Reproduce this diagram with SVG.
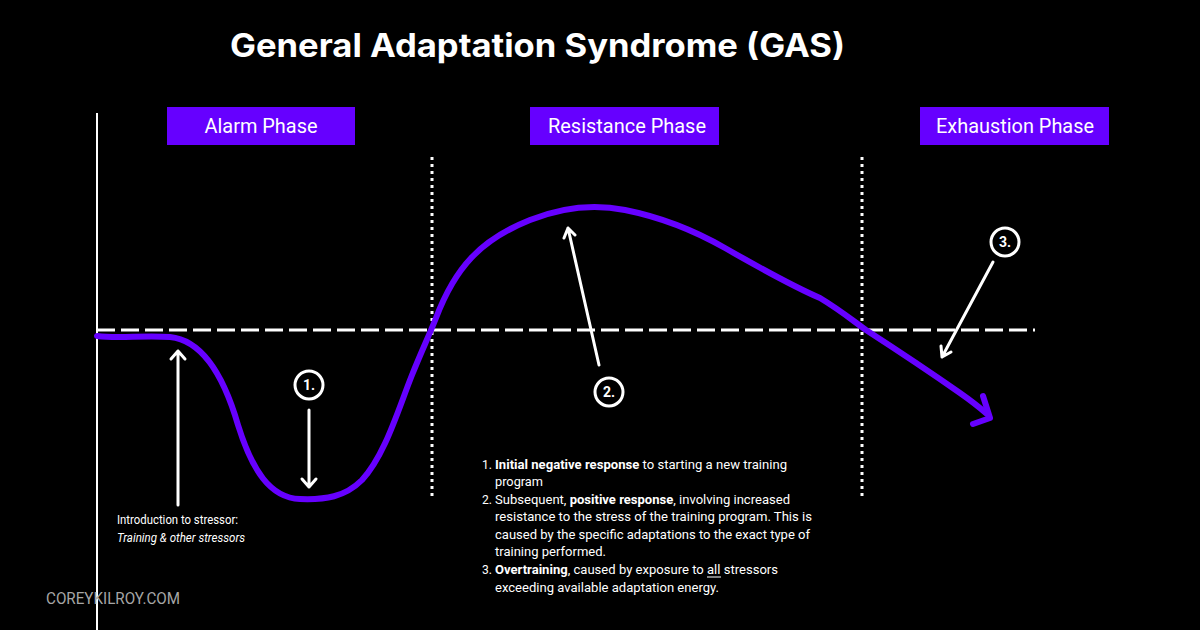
<svg xmlns="http://www.w3.org/2000/svg" width="1200" height="630" viewBox="0 0 1200 630">
<style>
.phase{fill:#6600ff}
.plabel{font-family:Roboto,"Liberation Sans",sans-serif;font-size:21px;fill:#fff;text-anchor:middle}
.wline{stroke:#fff;stroke-width:3;fill:none;stroke-linecap:round;stroke-linejoin:round}
.num{fill:none;stroke:#fff;stroke-width:3}
.numt{font-family:Roboto,"Liberation Sans",sans-serif;font-weight:bold;font-size:14px;fill:#fff;text-anchor:middle}
.body{font-family:Roboto,"Liberation Sans",sans-serif;font-size:13.5px;fill:#fff}
.b{font-weight:bold}
</style>
<rect width="1200" height="630" fill="#000"/>
<text x="230" y="57" font-family="Inter,'Open Sans','Liberation Sans',sans-serif" font-weight="bold" font-size="32" fill="#fff" textLength="615" lengthAdjust="spacingAndGlyphs">General Adaptation Syndrome (GAS)</text>

<g id="alarm-phase"><rect class="phase" x="167" y="107" width="188" height="38"/><text class="plabel" x="261" y="133" textLength="113" lengthAdjust="spacingAndGlyphs">Alarm Phase</text></g>
<g id="resistance-phase"><rect class="phase" x="530" y="107" width="189" height="38"/><text class="plabel" x="627" y="133" textLength="158" lengthAdjust="spacingAndGlyphs">Resistance Phase</text></g>
<g id="exhaustion-phase"><rect class="phase" x="920" y="107" width="189" height="38"/><text class="plabel" x="1015" y="133" textLength="158" lengthAdjust="spacingAndGlyphs">Exhaustion Phase</text></g>

<g id="axes">
<line x1="97" y1="113" x2="97" y2="630" stroke="#fff" stroke-width="2"/>
<line x1="97" y1="330" x2="1035" y2="330" stroke="#fff" stroke-width="3" stroke-dasharray="18 6"/>
<line x1="432" y1="157" x2="432" y2="497" stroke="#fff" stroke-width="3" stroke-dasharray="3 4"/>
<line x1="862" y1="157" x2="862" y2="497" stroke="#fff" stroke-width="3" stroke-dasharray="3 4"/>
</g>

<g id="curve">
<path d="M97,336 C120,339 140,335 170,337 C200,340 222,370 238,425 C252,470 270,498 300,499 C325,500 345,497 362,480 C385,455 398,410 412,375 C422,350 428,338 436,318 C455,268 480,240 530,220 C560,208 590,203 625,210 C660,217 690,228 725,248 C760,268 790,285 820,298 C840,310 852,320 866,330 C900,352 930,372 960,393 C970,400 978,406 987,414" fill="none" stroke="#6600ff" stroke-width="6" stroke-linecap="round" stroke-linejoin="round"/>
<path d="M983,396 L990,418 L973,424" fill="none" stroke="#6600ff" stroke-width="6" stroke-linecap="round" stroke-linejoin="round"/>
</g>

<g id="connectors">
<path class="wline" d="M178,505 L178,351 M171,359 L178,351 L185,359"/>
<path class="wline" d="M309,410 L309,487 M302,479 L309,487 L316,479"/>
<path class="wline" d="M599,365 L568,228 M564,238 L568,228 L575,235"/>
<path class="wline" d="M993,262 L942,357 M941,346 L942,357 L951,352"/>
</g>

<g id="marker-1"><circle class="num" cx="309" cy="385" r="14"/><text class="numt" x="309" y="390">1.</text></g>
<g id="marker-2"><circle class="num" cx="609" cy="392" r="14"/><text class="numt" x="609" y="397">2.</text></g>
<g id="marker-3"><circle class="num" cx="1005" cy="242" r="14"/><text class="numt" x="1005" y="247">3.</text></g>

<g id="intro-label">
<text class="body" x="117" y="524" font-size="13" textLength="121" lengthAdjust="spacingAndGlyphs">Introduction to stressor:</text>
<text class="body" x="117" y="542" font-size="13" font-style="italic" textLength="128" lengthAdjust="spacingAndGlyphs">Training &amp; other stressors</text>
</g>

<g id="notes">
<text class="body" x="482" y="469" textLength="10" lengthAdjust="spacingAndGlyphs">1.</text>
<text class="body" x="495" y="469" textLength="292" lengthAdjust="spacingAndGlyphs"><tspan class="b">Initial negative response</tspan> to starting a new training</text>
<text class="body" x="495" y="486" textLength="48" lengthAdjust="spacingAndGlyphs">program</text>
<text class="body" x="482" y="504" textLength="10" lengthAdjust="spacingAndGlyphs">2.</text>
<text class="body" x="495" y="504" textLength="295" lengthAdjust="spacingAndGlyphs">Subsequent, <tspan class="b">positive response</tspan>, involving increased</text>
<text class="body" x="495" y="521" textLength="317" lengthAdjust="spacingAndGlyphs">resistance to the stress of the training program. This is</text>
<text class="body" x="495" y="539" textLength="315" lengthAdjust="spacingAndGlyphs">caused by the specific adaptations to the exact type of</text>
<text class="body" x="495" y="556" textLength="111" lengthAdjust="spacingAndGlyphs">training performed.</text>
<text class="body" x="482" y="574" textLength="10" lengthAdjust="spacingAndGlyphs">3.</text>
<text class="body" x="495" y="574" textLength="283" lengthAdjust="spacingAndGlyphs"><tspan class="b">Overtraining</tspan>, caused by exposure to all stressors</text>
<line x1="707" y1="577" x2="721" y2="577" stroke="#fff" stroke-width="1"/>
<text class="body" x="495" y="592" textLength="224" lengthAdjust="spacingAndGlyphs">exceeding available adaptation energy.</text>
</g>

<text x="46" y="604" font-family="Roboto,'Liberation Sans',sans-serif" font-size="16" fill="#a6a6a6" textLength="134" lengthAdjust="spacingAndGlyphs">COREYKILROY.COM</text>
</svg>
